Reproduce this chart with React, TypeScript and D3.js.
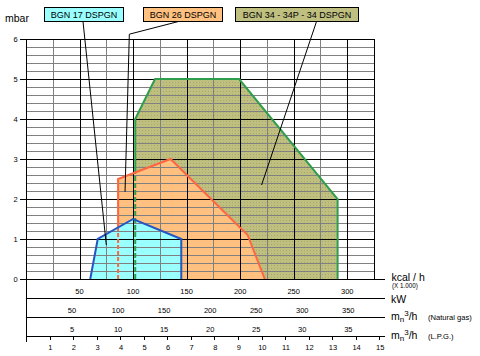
import React from "react";
import * as d3 from "d3";

// ---------- data ----------
const mbarTicks = [0, 1, 2, 3, 4, 5, 6];
const kcalTicks = [50, 100, 150, 200, 250, 300];
const kwTicks = [50, 100, 150, 200, 250, 300, 350];
const gasTicks = [5, 10, 15, 20, 25, 30, 35];
const lpgTicks = [1, 2, 3, 4, 5, 6, 7, 8, 9, 10, 11, 12, 13, 14, 15];

const KCAL_PER_KW = 0.86;
const KCAL_PER_M3_NG = 8.6;
const KCAL_PER_M3_LPG = 22;

const seriesNames = ["BGN 17 DSPGN", "BGN 26 DSPGN", "BGN 34 - 34P - 34 DSPGN"];

// kcal/h (x1000) and mbar
const bgn17Kcal = [60, 67, 100, 145, 145];
const bgn17Mbar = [0, 1, 1.5, 1, 0];
const bgn26Kcal = [86, 86, 135, 207, 223];
const bgn26Mbar = [0, 2.5, 3, 1.1, 0];
const bgn34Kcal = [102, 102, 120.5, 199, 291, 291];
const bgn34Mbar = [0, 4, 5, 5, 2, 0];

// leader line targets (kcal, mbar)
const leader17 = [[75, 0.85]];
const leader26 = [[96.5, 6.12], [92.5, 2.18]];
const leader34 = [[220, 2.35]];

// ---------- layout ----------
const W = 480, H = 356;
const X0 = 26, X1 = 374;
const Y0 = 279, Y6 = 39;
const FONT = "'Liberation Sans', Arial, sans-serif";

const x = d3.scaleLinear().domain([0, 325]).range([X0, X1]);
const y = d3.scaleLinear().domain([0, 6]).range([Y0, Y6]);
const px = (v: number) => Math.round(x(v)) + 0.5;
const py = (v: number) => Math.round(y(v)) + 0.5;

type P = [number, number];
const pts = (k: number[], m: number[]): P[] => k.map((v, i) => [x(v), y(m[i])]);
const line = d3.line<P>();

const s17 = pts(bgn17Kcal, bgn17Mbar);
const s26 = pts(bgn26Kcal, bgn26Mbar);
const s34 = pts(bgn34Kcal, bgn34Mbar);
const closed = (p: P[]) => line(p) + "Z";

const blue = "#2556c4";
const orange = "#ff6640";
const green = "#2f9e4c";

const boxes = [
  { x: 44.5, w: 79, fill: "#99ffff" },
  { x: 143.5, w: 79, fill: "#ffc080" },
  { x: 235.5, w: 123, fill: "#bfbf80" },
];
const boxTop = 7.5, boxH = 14;

export default function App() {
  const gridX = d3.range(25, 325, 25);
  const gridY = d3.range(0.2, 6, 0.2).filter((v) => Math.abs(v - Math.round(v)) > 0.01);

  const rowLines = [279, 298, 317, 336];
  const LINE_END = 385;

  const anchors: P[] = [
    [83, boxTop + boxH],
    [178.5, boxTop + boxH],
    [316.5, boxTop + boxH],
  ];
  const leaders: P[][] = [
    [anchors[0], ...leader17.map(([k, m]) => [x(k), y(m)] as P)],
    [anchors[1], ...leader26.map(([k, m]) => [x(k), y(m)] as P)],
    [anchors[2], ...leader34.map(([k, m]) => [x(k), y(m)] as P)],
  ];

  return (
    <svg width={W} height={H} style={{ position: "absolute", left: 0, top: 0, background: "#fff" }} fontFamily={FONT}>
      <defs>
        <pattern id="dots" width="3" height="3" patternUnits="userSpaceOnUse">
          <rect width="3" height="3" fill="#bfbf80" />
          <rect x="1" y="1" width="1" height="1" fill="#a9a96a" />
        </pattern>
        <mask id="m34solid" maskUnits="userSpaceOnUse" x="0" y="0" width={W} height={H}>
          <rect width={W} height={H} fill="#fff" />
          <path d={closed(s26)} fill="#000" />
          <path d={closed(s17)} fill="#000" />
        </mask>
        <mask id="m34dash" maskUnits="userSpaceOnUse" x="0" y="0" width={W} height={H}>
          <rect width={W} height={H} fill="#000" />
          <path d={closed(s26)} fill="#fff" />
          <path d={closed(s17)} fill="#fff" />
        </mask>
        <mask id="m26solid" maskUnits="userSpaceOnUse" x="0" y="0" width={W} height={H}>
          <rect width={W} height={H} fill="#fff" />
          <path d={closed(s17)} fill="#000" />
        </mask>
        <mask id="m26dash" maskUnits="userSpaceOnUse" x="0" y="0" width={W} height={H}>
          <rect width={W} height={H} fill="#000" />
          <path d={closed(s17)} fill="#fff" />
        </mask>
      </defs>

      {/* fills */}
      <path d={closed(s34)} fill="url(#dots)" />
      <path d={closed(s26)} fill="#ffc080" />
      <path d={closed(s17)} fill="#99ffff" />

      {/* grid */}
      {gridY.map((v) => (
        <line key={"gy" + v} x1={X0} x2={X1} y1={py(v)} y2={py(v)} stroke="#808080" strokeWidth={1} />
      ))}
      {gridX.filter((v) => v % 50 !== 0).map((v) => (
        <line key={"gx" + v} x1={px(v)} x2={px(v)} y1={Y6} y2={Y0} stroke="#808080" strokeWidth={1} />
      ))}
      {mbarTicks.map((v) => (
        <line key={"by" + v} x1={X0 - 6} x2={X1} y1={py(v)} y2={py(v)} stroke="#000" strokeWidth={1} />
      ))}
      {[...gridX.filter((v) => v % 50 === 0), 325].map((v) => (
        <line key={"bx" + v} x1={px(v)} x2={px(v)} y1={Y6} y2={Y0} stroke="#000" strokeWidth={1} />
      ))}

      {/* outlines */}
      <path d={line(s34)!} fill="none" stroke={green} strokeWidth={2} mask="url(#m34solid)" />
      <path d={line(s34)!} fill="none" stroke={green} strokeWidth={2} strokeDasharray="5,2" mask="url(#m34dash)" />
      <path d={line(s26)!} fill="none" stroke={orange} strokeWidth={2} mask="url(#m26solid)" />
      <path d={line(s26)!} fill="none" stroke={orange} strokeWidth={2} strokeDasharray="4,2" mask="url(#m26dash)" />
      <path d={line(s17)!} fill="none" stroke={blue} strokeWidth={2} />

      {/* left axis */}
      <line x1={X0 + 0.5} x2={X0 + 0.5} y1={Y6} y2={342} stroke="#000" strokeWidth={1} />
      {mbarTicks.map((v) => (
        <text key={"yl" + v} x={15.5} y={y(v) + 2.8} fontSize={7.5} textAnchor="middle" fill="#000">
          {v}
        </text>
      ))}
      <text x={5} y={22} fontSize={10.5} fill="#000">mbar</text>

      {/* bottom rows */}
      {rowLines.map((ry) => (
        <line key={"r" + ry} x1={X0} x2={LINE_END} y1={ry + 0.5} y2={ry + 0.5} stroke="#000" strokeWidth={1} />
      ))}
      {kcalTicks.map((v) => (
        <text key={"k" + v} x={x(v)} y={294} fontSize={7.5} textAnchor="middle">{v}</text>
      ))}
      {kwTicks.map((v) => (
        <text key={"w" + v} x={x(v * KCAL_PER_KW)} y={313.3} fontSize={7.5} textAnchor="middle">{v}</text>
      ))}
      {gasTicks.map((v) => (
        <text key={"g" + v} x={x(v * KCAL_PER_M3_NG)} y={332.3} fontSize={7.5} textAnchor="middle">{v}</text>
      ))}
      {lpgTicks.map((v) => (
        <g key={"l" + v}>
          <line x1={Math.round(x(v * KCAL_PER_M3_LPG)) + 0.5} x2={Math.round(x(v * KCAL_PER_M3_LPG)) + 0.5} y1={336} y2={340} stroke="#000" strokeWidth={1} />
          <text x={x(v * KCAL_PER_M3_LPG) + 0.8} y={350} fontSize={7.5} textAnchor="middle">{v}</text>
        </g>
      ))}

      {/* row labels */}
      <text x={391.5} y={280.5} fontSize={10.5}>kcal / h</text>
      <text x={392} y={288} fontSize={6.3}>(X 1.000)</text>
      <text x={391} y={302.5} fontSize={10.5}>kW</text>
      <text x={391} y={320} fontSize={10.5}>
        m<tspan fontSize={8} dy={2}>n</tspan><tspan fontSize={8} dy={-6}>3</tspan><tspan dy={4}>/h</tspan>
      </text>
      <text x={428} y={320} fontSize={7.6}>(Natural gas)</text>
      <text x={391} y={339} fontSize={10.5}>
        m<tspan fontSize={8} dy={2}>n</tspan><tspan fontSize={8} dy={-6}>3</tspan><tspan dy={4}>/h</tspan>
      </text>
      <text x={428} y={339} fontSize={7.6}>(L.P.G.)</text>

      {/* leaders */}
      {leaders.map((l, i) => (
        <path key={"ld" + i} d={line(l)!} fill="none" stroke="#000" strokeWidth={1} />
      ))}

      {/* legend boxes */}
      {boxes.map((b, i) => (
        <g key={"b" + i}>
          <rect x={b.x} y={boxTop} width={b.w} height={boxH} fill={b.fill} stroke="#000" strokeWidth={1} />
          <text x={b.x + b.w / 2} y={boxTop + 10.3} fontSize={9} textAnchor="middle" fill="#000">
            {seriesNames[i]}
          </text>
        </g>
      ))}
    </svg>
  );
}
